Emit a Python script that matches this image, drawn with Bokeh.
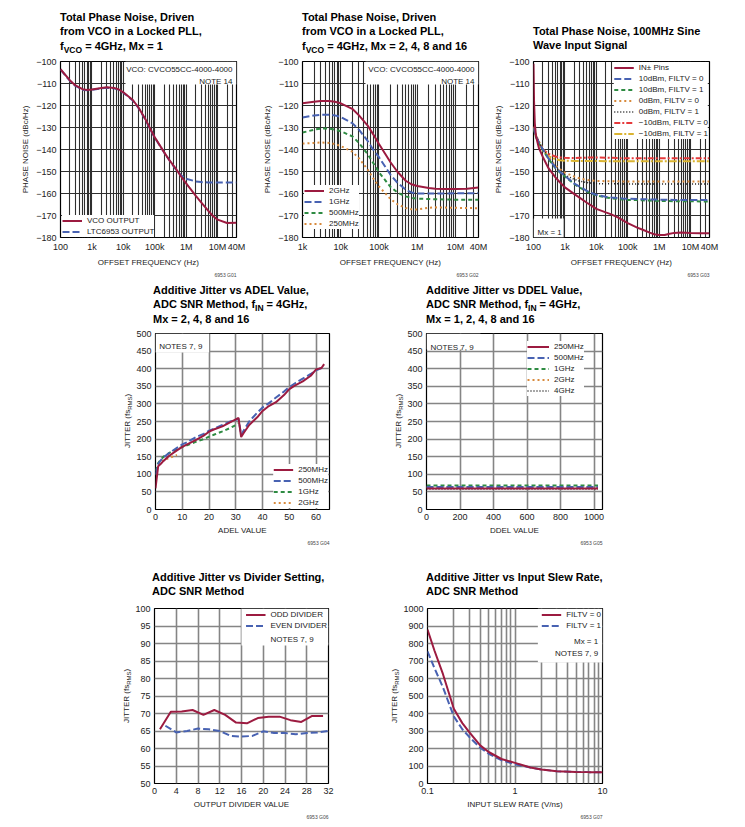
import math
from bokeh.plotting import figure
from bokeh.models import FixedTicker, Label, Legend, LegendItem, BoxAnnotation, Range1d, Spacer, Div, Title
from bokeh.layouts import row, column
from bokeh.embed import file_html
from bokeh.resources import INLINE

# ---------------- data ----------------
P1_FREQ = [100, 200, 300, 500, 700, 1000, 2000, 3000, 5000, 7000, 10000, 20000, 30000, 50000,
           70000, 100000, 200000, 300000, 500000, 700000, 1000000, 2000000, 3000000, 5000000,
           7000000, 10000000, 20000000, 40000000]
P1_VCO = [-103.5, -108.6, -110.9, -112.6, -112.9, -112.7, -112.0, -111.7, -112.0, -112.6, -114.0,
          -117.5, -120.8, -126.1, -130.3, -134.4, -141.3, -145.1, -149.3, -152.4, -155.4, -161.0,
          -164.0, -167.8, -170.1, -171.9, -173.4, -173.3]
P1_LTC = [-103.7, -108.8, -111.1, -112.8, -113.1, -112.9, -112.2, -111.9, -112.2, -112.8, -114.2,
          -117.7, -121.0, -126.3, -130.5, -134.6, -141.4, -145.1, -149.6, -151.8, -153.3, -154.5,
          -154.8, -155.0, -155.0, -155.0, -155.0, -155.0]

P2_FREQ = [1000, 2000, 3000, 5000, 7000, 10000, 20000, 30000, 50000, 70000, 100000, 200000, 300000,
           500000, 700000, 1000000, 2000000, 3000000, 5000000, 10000000, 20000000, 40000000]
P2_2G = [-119.0, -118.3, -118.0, -118.0, -118.3, -119.0, -121.5, -124.5, -129.0, -133.0, -137.5,
         -145.8, -150.0, -154.2, -155.8, -156.6, -157.5, -157.8, -158.0, -158.0, -157.8, -157.3]
P2_1G = [-125.5, -124.5, -124.2, -124.2, -124.5, -125.2, -128.0, -131.0, -136.0, -140.0, -143.5,
         -151.5, -155.0, -158.3, -159.5, -160.0, -160.0, -160.0, -160.0, -159.9, -159.9, -159.8]
P2_500M = [-132.3, -131.0, -130.5, -130.5, -131.0, -131.7, -134.0, -137.0, -142.0, -146.0, -150.4,
           -157.0, -159.5, -161.3, -162.0, -162.3, -162.5, -162.6, -162.7, -162.8, -162.8, -162.8]
P2_250M = [-137.3, -137.0, -136.8, -137.0, -137.5, -138.4, -141.0, -144.0, -149.0, -153.0, -156.8,
           -162.5, -164.8, -166.6, -167.2, -167.3, -166.5, -166.3, -166.4, -166.5, -166.6, -166.7]

P3_IN_FREQ = [100, 104, 110, 120, 150, 200, 300, 500, 700, 1000, 2000, 3000, 5000, 7000, 10000,
              20000, 30000, 50000, 100000, 200000, 300000, 500000, 700000, 1000000, 1500000,
              2000000, 3000000, 5000000, 10000000, 20000000, 40000000]
P3_IN = [-101.0, -118.0, -128.0, -134.0, -139.5, -143.5, -148.5, -152.7, -155.0, -157.2, -160.3,
         -162.0, -164.2, -165.5, -167.0, -168.6, -169.5, -171.0, -173.5, -175.5, -176.5, -177.8,
         -178.5, -178.9, -178.9, -178.4, -177.9, -177.7, -178.0, -178.1, -178.1]
P3_FREQ = [100, 120, 150, 200, 300, 500, 700, 1000, 2000, 3000, 5000, 7000, 10000, 20000, 30000,
           50000, 70000, 100000, 200000, 300000, 500000, 700000, 1000000, 2000000, 3000000,
           5000000, 10000000, 20000000, 40000000]
P3_10_F0 = [-130.0, -134.0, -137.0, -140.0, -144.0, -148.2, -150.2, -152.0, -155.5, -157.0, -158.8,
            -159.8, -160.6, -161.5, -161.8, -162.1, -162.3, -162.4, -162.5, -162.6, -162.7, -162.7,
            -162.8, -162.8, -162.9, -162.9, -162.9, -162.9, -162.9]
P3_10_F1 = [-130.5, -134.3, -137.3, -140.3, -144.3, -148.5, -150.5, -152.3, -155.8, -157.3, -159.1,
            -160.1, -160.9, -161.8, -162.2, -162.5, -162.7, -162.9, -163.0, -163.1, -163.2, -163.3,
            -163.4, -163.4, -163.5, -163.5, -163.5, -163.6, -163.6]
P3_0_F0 = [-130.0, -133.5, -136.5, -139.5, -143.5, -147.3, -149.0, -150.5, -152.3, -153.2, -153.8,
           -154.1, -154.3, -154.4, -154.4, -154.4, -154.5, -154.5, -154.5, -154.5, -154.5, -154.5,
           -154.5, -154.5, -154.5, -154.5, -154.5, -154.5, -154.5]
P3_0_F1 = [-130.3, -133.8, -136.8, -139.8, -144.0, -148.0, -150.0, -151.6, -153.6, -154.4, -155.0,
           -155.3, -155.5, -155.6, -155.6, -155.6, -155.7, -155.7, -155.7, -155.7, -155.7, -155.7,
           -155.7, -155.7, -155.7, -155.7, -155.7, -155.7, -155.7]
P3_M10_F0 = [-129.5, -133.5, -137.0, -140.0, -142.0, -143.2, -143.6, -143.8, -143.9, -143.8, -143.7,
             -143.6, -143.6, -143.7, -143.8, -143.9, -144.0, -144.0, -144.0, -144.0, -144.0, -144.0,
             -144.0, -144.0, -144.0, -144.0, -144.0, -144.0, -144.0]
P3_M10_F1 = [-130.0, -134.0, -137.5, -140.5, -143.0, -144.4, -144.9, -145.1, -145.2, -145.2, -145.2,
             -145.2, -145.2, -145.3, -145.3, -145.3, -145.3, -145.3, -145.3, -145.3, -145.3, -145.3,
             -145.3, -145.3, -145.3, -145.3, -145.3, -145.3, -145.3]

ADEL_A = [0, 1, 2, 3, 5, 8, 10, 12, 15, 18, 20, 22, 25, 28, 30, 31, 32, 33, 35, 38, 40, 42, 45, 48,
          50, 52, 55, 58, 60, 62, 63]
J_250M = [60, 123, 130, 138, 152, 168, 178, 186, 197, 210, 221, 228, 236, 248, 256, 260, 206, 218,
          240, 262, 280, 292, 305, 325, 342, 352, 364, 380, 398, 402, 413]
J_500M = [100, 130, 140, 148, 160, 175, 185, 192, 205, 215, 224, 230, 240, 250, 255, 258, 212, 225,
          250, 275, 290, 300, 318, 335, 348, 358, 372, 385, 395, 402, 408]
ADEL_B = [0, 1, 2, 3, 5, 8, 10, 12, 15, 18, 20, 22, 25, 28, 30, 31]
J_1G = [110, 132, 142, 150, 160, 172, 178, 183, 192, 200, 207, 213, 222, 232, 240, 245]
ADEL_C = [1, 2, 3, 4, 5, 6, 7, 8]
J_2G = [128, 135, 140, 143, 146, 149, 152, 155]

DDEL = [0, 1023]
D_250M = [60, 60]
D_500M = [64, 64]
D_1G = [68, 68]
D_2G = [63, 63]
D_4G = [58.5, 58.5]

ODD_N = [1, 3, 5, 7, 9, 11, 13, 15, 17, 19, 21, 23, 25, 27, 29, 31]
ODD_J = [65.5, 70.5, 70.6, 71.0, 69.6, 71.0, 69.6, 67.4, 67.2, 68.7, 69.1, 69.1, 68.1, 67.6, 69.3, 69.3]
EVEN_N = [2, 4, 6, 8, 10, 12, 14, 16, 18, 20, 22, 24, 26, 28, 30, 32]
EVEN_J = [66.5, 64.6, 65.0, 65.7, 65.5, 65.0, 63.6, 63.4, 63.6, 64.9, 64.4, 64.4, 64.1, 64.4, 64.6, 65.0]

SLEW = [0.1, 0.12, 0.15, 0.2, 0.25, 0.3, 0.4, 0.5, 0.7, 1, 1.5, 2, 3, 5, 7, 10]
SLEW_F0 = [880, 760, 626, 427, 345, 294, 218, 180, 140, 118, 91, 80, 70, 66, 65, 65]
SLEW_F1 = [755, 660, 550, 383, 310, 266, 205, 170, 133, 110, 91, 80, 70, 66, 65, 65]

PN_Y_TICKS = [-180, -170, -160, -150, -140, -130, -120, -110, -100]
LOG_LABELS = {100: "100", 1000: "1k", 10000: "10k", 100000: "100k", 1000000: "1M",
              10000000: "10M", 40000000: "40M"}

# ---------------- styles ----------------
FONT = "Liberation Sans, Arial, sans-serif"
TXT = "#222222"
RED = "#9c1b40"
BLUE = "#4862b2"
GREEN = "#2e8b42"
ORANGE = "#d88a3c"
BLACK = "#1a1a1a"
RED2 = "#e63a3c"
YELLOW = "#dab431"
DARKGRID = "#2e2e2e"
GRAYGRID = "#858585"
SMALL = 8
NOM = (0, 0, 0, 0)


def mk(w, h, bl, br, bb, xr, yr, xlog=False, footer=""):
    p = figure(width=w, height=h, x_range=Range1d(*xr), y_range=Range1d(*yr),
               x_axis_type="log" if xlog else "linear", output_backend="svg",
               toolbar_location=None, title=None, min_border_left=bl, min_border_right=br,
               min_border_top=4, min_border_bottom=bb, margin=NOM)
    p.outline_line_color = "black"
    p.outline_line_width = 1.2
    p.outline_line_alpha = 1
    p.background_fill_color = "white"
    p.border_fill_color = "white"
    for ax in (p.xaxis[0], p.yaxis[0]):
        ax.axis_line_color = None
        ax.major_tick_line_color = None
        ax.minor_tick_line_color = None
        ax.major_tick_in = 0
        ax.major_tick_out = 0
        ax.minor_tick_in = 0
        ax.minor_tick_out = 0
        ax.major_label_text_font = FONT
        ax.major_label_text_font_size = "9px"
        ax.major_label_text_color = TXT
        ax.axis_label_text_font = FONT
        ax.axis_label_text_font_size = "8px"
        ax.axis_label_text_font_style = "normal"
        ax.axis_label_text_color = TXT
        ax.major_label_standoff = 4
        ax.axis_label_standoff = 3
    p.add_layout(Title(text=footer, align="right", text_font=FONT, text_font_size="5px",
                       text_font_style="normal", text_color="#444", standoff=0), "below")
    return p


def ticks(p, dim, positions, labels, gcolor, gwidth):
    t = FixedTicker(ticks=positions)
    ax = p.xaxis[0] if dim == 0 else p.yaxis[0]
    g = p.xgrid[0] if dim == 0 else p.ygrid[0]
    ax.ticker = t
    ax.major_label_overrides = {q: labels.get(q, "") for q in positions}
    g.ticker = t
    g.grid_line_color = gcolor
    g.grid_line_width = gwidth
    g.grid_line_alpha = 1


def lab(p, x, y, text, size=SMALL, align="left", baseline="alphabetic"):
    p.add_layout(Label(x=x, y=y, x_units="screen", y_units="screen", text=text,
                       text_font=FONT, text_font_size=f"{size}px", text_font_style="normal",
                       text_align=align, text_baseline=baseline, text_color=TXT))


def box(p, l, r, b, t):
    p.add_layout(BoxAnnotation(left=l, right=r, bottom=b, top=t, fill_color="white",
                               fill_alpha=1, line_color=None))


def legend(p, items, loc, gw=20):
    leg = Legend(items=[LegendItem(label=lbl, renderers=[r]) for lbl, r in items], location=loc,
                 background_fill_color="white", background_fill_alpha=1, border_line_color=None,
                 label_text_font=FONT, label_text_font_size=f"{SMALL}px", label_text_color=TXT,
                 glyph_width=gw, glyph_height=9, label_height=11, spacing=0, padding=3, margin=1,
                 label_standoff=5)
    p.add_layout(leg)


SUB = '<sub style="font-size:8.5px;line-height:0;vertical-align:-2.5px">{}</sub>'


def title_div(lines, width, height, pad_left, pad_top):
    html = (f'<div style="padding-left:{pad_left}px;padding-top:{pad_top}px;'
            f'font-family:{FONT};font-weight:bold;font-size:11px;line-height:14.3px;'
            f'color:#000;white-space:nowrap">' + "<br>".join(lines) + "</div>")
    return Div(text=html, width=width, height=height, margin=NOM)


def ylab_div(height, top):
    html = (f'<div style="margin-top:{top}px;height:176px;width:10px;writing-mode:vertical-rl;'
            f'transform:rotate(180deg);text-align:center;font-family:{FONT};font-size:8px;'
            f'line-height:10px;color:{TXT};white-space:nowrap">JITTER (fs'
            f'<sub style="font-size:6px;line-height:0;vertical-align:-1.5px">RMS</sub>)</div>')
    return Div(text=html, width=10, height=height, margin=NOM)


def pn_y(p):
    ticks(p, 1, PN_Y_TICKS, {v: str(v).replace("-", "\u2212") for v in PN_Y_TICKS}, DARKGRID, 1.1)
    p.yaxis[0].axis_label = "PHASE NOISE (dBc/Hz)"


def log_grid(d0, d1):
    pos = [k * 10 ** d for d in range(d0, d1) for k in range(1, 10)]
    return pos + [10 ** d1, 2 * 10 ** d1, 3 * 10 ** d1, 4 * 10 ** d1]


# ---------------- panel 1 ----------------
f1 = mk(240, 223, 52, 12, 43, (100, 4e7), (-180, -100), xlog=True, footer="6953 G01")
ticks(f1, 0, log_grid(2, 7), LOG_LABELS, DARKGRID, 1.1)
pn_y(f1)
f1.xaxis[0].axis_label = "OFFSET FREQUENCY (Hz)"
box(f1, 11720, 4e7, -110.5, -100)
b1 = f1.line(P1_FREQ, P1_LTC, color=BLUE, line_width=2, line_dash="7 3")
r1 = f1.line(P1_FREQ, P1_VCO, color=RED, line_width=2)
legend(f1, [("VCO OUTPUT", r1), ("LTC6953 OUTPUT", b1)], (2, 0))
lab(f1, 172, 168, "VCO: CVCO55CC-4000-4000", align="right")
lab(f1, 172, 156.5, "NOTE 14", align="right")
t1 = title_div(["Total Phase Noise, Driven", "from VCO in a Locked PLL,",
                "f" + SUB.format("VCO") + " = 4GHz, Mx = 1"], 240, 49, 52, 2)

# ---------------- panel 2 ----------------
f2 = mk(242, 223, 54, 12, 43, (1000, 4e7), (-180, -100), xlog=True, footer="6953 G02")
ticks(f2, 0, log_grid(3, 7), LOG_LABELS, DARKGRID, 1.1)
pn_y(f2)
f2.xaxis[0].axis_label = "OFFSET FREQUENCY (Hz)"
box(f2, 44400, 4e7, -110.5, -100)
l250 = f2.line(P2_FREQ, P2_250M, color=ORANGE, line_width=2, line_dash="2 3")
l500 = f2.line(P2_FREQ, P2_500M, color=GREEN, line_width=2, line_dash="4 3")
l1g = f2.line(P2_FREQ, P2_1G, color=BLUE, line_width=2, line_dash="7 3")
l2g = f2.line(P2_FREQ, P2_2G, color=RED, line_width=2)
legend(f2, [("2GHz", l2g), ("1GHz", l1g), ("500MHz", l500), ("250MHz", l250)], (2, 8))
lab(f2, 172, 168, "VCO: CVCO55CC-4000-4000", align="right")
lab(f2, 172, 156.5, "NOTE 14", align="right")
t2 = title_div(["Total Phase Noise, Driven", "from VCO in a Locked PLL,",
                "f" + SUB.format("VCO") + " = 4GHz, Mx = 2, 4, 8 and 16"], 242, 49, 54, 2)

# ---------------- panel 3 ----------------
f3 = mk(247, 223, 43, 28, 43, (100, 4e7), (-180, -100), xlog=True, footer="6953 G03")
ticks(f3, 0, log_grid(2, 7), LOG_LABELS, DARKGRID, 1.1)
pn_y(f3)
f3.xaxis[0].axis_label = "OFFSET FREQUENCY (Hz)"
box(f3, 100, 912, -180, -171.4)
q6 = f3.line(P3_FREQ, P3_M10_F1, color=YELLOW, line_width=2, line_dash="8 2 2 2")
q5 = f3.line(P3_FREQ, P3_M10_F0, color=RED2, line_width=2, line_dash="6 2 2 2")
q4 = f3.line(P3_FREQ, P3_0_F1, color=BLACK, line_width=1.5, line_dash="1 2")
q3 = f3.line(P3_FREQ, P3_0_F0, color=ORANGE, line_width=2, line_dash="2 3")
q2 = f3.line(P3_FREQ, P3_10_F1, color=GREEN, line_width=2, line_dash="4 3")
q1 = f3.line(P3_FREQ, P3_10_F0, color=BLUE, line_width=2, line_dash="7 3")
q0 = f3.line(P3_IN_FREQ, P3_IN, color=RED, line_width=2)
legend(f3, [("IN\u00b1 Pins", q0), ("10dBm, FILTV = 0", q1), ("10dBm, FILTV = 1", q2),
            ("0dBm, FILTV = 0", q3), ("0dBm, FILTV = 1", q4), ("\u221210dBm, FILTV = 0", q5),
            ("\u221210dBm, FILTV = 1", q6)], "top_right")
lab(f3, 4, 5.3, "Mx = 1")
t3 = title_div(["Total Phase Noise, 100MHz Sine", "Wave Input Signal"], 247, 49, 43, 16)

# ---------------- panel 4 ----------------
f4 = mk(261, 227, 20, 65, 47, (0, 65), (0, 500), footer="6953 G04")
xt4 = [0, 10, 20, 30, 40, 50, 60]
yt4 = list(range(0, 501, 50))
ticks(f4, 0, xt4, {v: str(v) for v in xt4}, GRAYGRID, 1.6)
ticks(f4, 1, yt4, {v: str(v) for v in yt4}, GRAYGRID, 1.6)
f4.xaxis[0].axis_label = "ADEL VALUE"
box(f4, 0, 20, 446, 500)
a4 = f4.line(ADEL_C, J_2G, color=ORANGE, line_width=2, line_dash="2 3")
a3 = f4.line(ADEL_B, J_1G, color=GREEN, line_width=2, line_dash="4 3")
a2 = f4.line(ADEL_A, J_500M, color=BLUE, line_width=2, line_dash="7 3")
a1 = f4.line(ADEL_A, J_250M, color=RED, line_width=2)
legend(f4, [("250MHz", a1), ("500MHz", a2), ("1GHz", a3), ("2GHz", a4)], "bottom_right")
lab(f4, 3.7, 163.3, "NOTES 7, 9")
t4 = title_div(["Additive Jitter vs ADEL Value,",
                "ADC SNR Method, f" + SUB.format("IN") + " = 4GHz,",
                "Mx = 2, 4, 8 and 16"], 261, 49, 20, 3)

# ---------------- panel 5 ----------------
f5 = mk(218, 227, 22, 20, 47, (0, 1050), (0, 500), footer="6953 G05")
xt5 = [0, 200, 400, 600, 800, 1000]
ticks(f5, 0, xt5, {v: str(v) for v in xt5}, GRAYGRID, 1.6)
ticks(f5, 1, yt4, {v: str(v) for v in yt4}, GRAYGRID, 1.6)
f5.xaxis[0].axis_label = "DDEL VALUE"
box(f5, 0, 322, 454.5, 500)
d5 = f5.line(DDEL, D_4G, color=BLACK, line_width=1.5, line_dash="1 2")
d4 = f5.line(DDEL, D_2G, color=ORANGE, line_width=2, line_dash="2 3")
d3 = f5.line(DDEL, D_1G, color=GREEN, line_width=2, line_dash="4 3")
d2 = f5.line(DDEL, D_500M, color=BLUE, line_width=2, line_dash="7 3")
d1 = f5.line(DDEL, D_250M, color=RED, line_width=2)
legend(f5, [("250MHz", d1), ("500MHz", d2), ("1GHz", d3), ("2GHz", d4), ("4GHz", d5)],
       (101, 113), gw=22)
lab(f5, 4, 162.3, "NOTES 7, 9")
t5 = title_div(["Additive Jitter vs DDEL Value,",
                "ADC SNR Method, f" + SUB.format("IN") + " = 4GHz,",
                "Mx = 1, 2, 4, 8 and 16"], 218, 49, 22, 3)

# ---------------- panel 6 ----------------
f6 = mk(258, 215, 20, 62, 35, (0, 32), (50, 100), footer="6953 G06")
xt6 = list(range(0, 33, 4))
yt6 = list(range(50, 101, 5))
ticks(f6, 0, xt6, {v: str(v) for v in xt6}, GRAYGRID, 1.6)
ticks(f6, 1, yt6, {v: str(v) for v in yt6}, GRAYGRID, 1.6)
f6.xaxis[0].axis_label = "OUTPUT DIVIDER VALUE"
box(f6, 16, 32, 89.4, 100)
e2 = f6.line(EVEN_N, EVEN_J, color=BLUE, line_width=2, line_dash="7 3")
e1 = f6.line(ODD_N, ODD_J, color=RED, line_width=2)
legend(f6, [("ODD DIVIDER", e1), ("EVEN DIVIDER", e2)], "top_right")
lab(f6, 116, 143.7, "NOTES 7, 9", baseline="middle")
t6 = title_div(["Additive Jitter vs Divider Setting,", "ADC SNR Method"], 258, 48, 20, 14)

# ---------------- panel 7 ----------------
f7 = mk(222, 215, 26, 20, 35, (0.1, 10), (0, 1000), xlog=True, footer="6953 G07")
xt7 = [round(k * 0.1, 1) for k in range(1, 10)] + list(range(1, 11))
yt7 = list(range(0, 1001, 100))
ticks(f7, 0, xt7, {0.1: "0.1", 1: "1", 10: "10"}, GRAYGRID, 1.6)
ticks(f7, 1, yt7, {v: str(v) for v in yt7}, GRAYGRID, 1.6)
f7.xaxis[0].axis_label = "INPUT SLEW RATE (V/ns)"
box(f7, 1.825, 10, 692, 1000)
s2 = f7.line(SLEW, SLEW_F1, color=BLUE, line_width=2, line_dash="7 3")
s1 = f7.line(SLEW, SLEW_F0, color=RED, line_width=2)
legend(f7, [("FILTV = 0", s1), ("FILTV = 1", s2)], "top_right")
lab(f7, 170.7, 142.5, "Mx = 1", align="right", baseline="middle")
lab(f7, 170.7, 130.5, "NOTES 7, 9", align="right", baseline="middle")
t7 = title_div(["Additive Jitter vs Input Slew Rate,", "ADC SNR Method"], 222, 48, 26, 14)

layout = column(
    Spacer(width=10, height=8, margin=NOM),
    row(Spacer(width=8, height=272, margin=NOM),
        column(t1, f1, margin=NOM), column(t2, f2, margin=NOM), column(t3, f3, margin=NOM),
        margin=NOM),
    row(Spacer(width=123, height=276, margin=NOM), ylab_div(276, 53),
        column(t4, f4, margin=NOM), ylab_div(276, 53), column(t5, f5, margin=NOM), margin=NOM),
    row(Spacer(width=122, height=263, margin=NOM), ylab_div(263, 52),
        column(t6, f6, margin=NOM), ylab_div(263, 52), column(t7, f7, margin=NOM), margin=NOM),
    margin=NOM,
)

open("out.html", "w").write(file_html(layout, INLINE))
